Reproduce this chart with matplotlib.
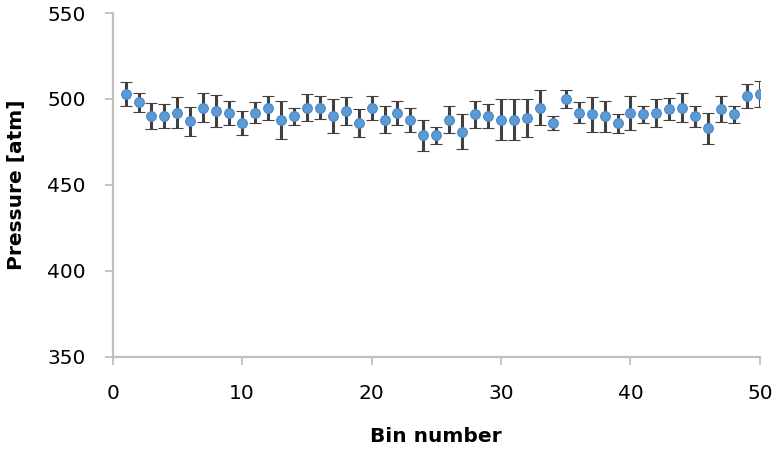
"""
Pressure per bin with error bars (Excel-style scatter).
"""
import matplotlib

matplotlib.use("Agg")
import matplotlib.pyplot as plt

# --------------------------------------------------------------------------- #
# data
# --------------------------------------------------------------------------- #
bins = list(range(1, 51))
pressure = [
    503, 498, 490, 490, 492, 487, 495, 493, 492, 486,
    492, 495, 488, 490, 495, 495, 490, 493, 486, 495,
    488, 492, 488, 479, 479, 488, 481, 491, 490, 488,
    488, 489, 495, 486, 500, 492, 491, 490, 486, 492,
    491, 492, 494, 495, 490, 483, 494, 491, 502, 503,
]
pressure_err = [
    7.0, 5.5, 7.5, 7.0, 9.0, 8.5, 8.5, 9.5, 7.0, 7.0,
    6.0, 7.0, 11.0, 5.0, 8.0, 6.5, 10.0, 8.0, 8.0, 7.0,
    8.0, 7.0, 7.0, 9.0, 5.0, 8.0, 10.0, 8.0, 7.0, 12.0,
    12.0, 11.0, 10.0, 4.0, 5.0, 6.0, 10.0, 9.0, 5.5, 10.0,
    5.0, 8.0, 6.5, 8.5, 6.0, 9.0, 7.5, 5.0, 7.0, 7.5,
]

x_ticks = [0, 10, 20, 30, 40, 50]
y_ticks = [350, 400, 450, 500, 550]

# --------------------------------------------------------------------------- #
# plot
# --------------------------------------------------------------------------- #
plt.rcParams["font.family"] = ["DejaVu Sans"]

fig = plt.figure(figsize=(7.77, 4.5), dpi=100)
ax = fig.add_axes([0.145, 0.2067, 0.833, 0.7644])

ax.errorbar(
    bins, pressure, yerr=pressure_err,
    fmt="o", markersize=7, color="#5b9bd5",
    markeredgecolor="#4a86c5", markeredgewidth=0.8,
    ecolor="#404040", elinewidth=2.2, capsize=4.5, capthick=1.8,
    zorder=3,
)

ax.set_xlim(0, 50)
ax.set_ylim(350, 550)
ax.set_xticks(x_ticks)
ax.set_yticks(y_ticks)
ax.tick_params(axis="both", labelsize=14.5, colors="#bfbfbf",
               labelcolor="black", length=6, width=1.3,
               direction="out", pad=13.5)

for side in ("top", "right"):
    ax.spines[side].set_visible(False)
for side in ("left", "bottom"):
    ax.spines[side].set_color("#bfbfbf")
    ax.spines[side].set_linewidth(1.6)

ax.set_xlabel("Bin number", fontsize=14.5, fontweight="bold")
ax.set_ylabel("Pressure [atm]", fontsize=14.5, fontweight="bold")
ax.xaxis.set_label_coords(0.5, -0.203)
ax.yaxis.set_label_coords(-0.134, 0.5)

fig.savefig("out.png", dpi=100)
